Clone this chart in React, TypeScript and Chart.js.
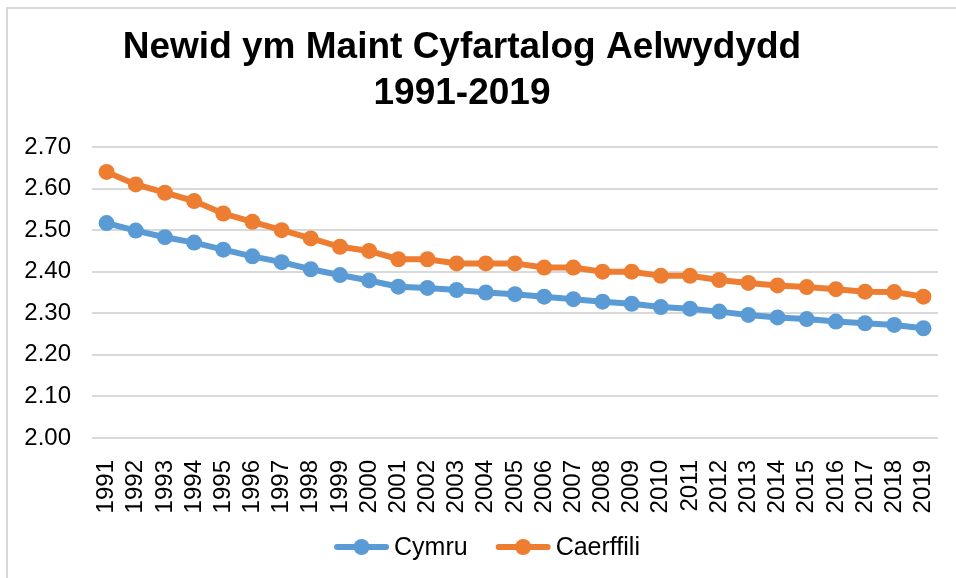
import React, { useEffect, useRef } from "react";
import { Chart, registerables } from "chart.js";

Chart.register(...registerables);

const FONT = '"Liberation Sans", Arial, sans-serif';

const titleLines = ["Newid ym Maint Cyfartalog Aelwydydd", "1991-2019"];

const years = [
  "1991", "1992", "1993", "1994", "1995", "1996", "1997", "1998", "1999", "2000",
  "2001", "2002", "2003", "2004", "2005", "2006", "2007", "2008", "2009", "2010",
  "2011", "2012", "2013", "2014", "2015", "2016", "2017", "2018", "2019",
];

const cymru = [
  2.517, 2.499, 2.483, 2.47, 2.453, 2.437, 2.423, 2.406, 2.392, 2.379,
  2.364, 2.361, 2.356, 2.35, 2.346, 2.34, 2.334, 2.328, 2.323, 2.315,
  2.311, 2.304, 2.296, 2.29, 2.286, 2.28, 2.276, 2.272, 2.264,
];

const caerffili = [
  2.64, 2.61, 2.59, 2.57, 2.54, 2.52, 2.5, 2.48, 2.46, 2.45,
  2.43, 2.43, 2.42, 2.42, 2.42, 2.41, 2.41, 2.4, 2.4, 2.39,
  2.39, 2.38, 2.373, 2.367, 2.363, 2.358, 2.352, 2.351, 2.34,
];

const yTicks = [2.0, 2.1, 2.2, 2.3, 2.4, 2.5, 2.6, 2.7];

const seriesNames = ["Cymru", "Caerffili"];
const seriesColors = ["#5B9BD5", "#ED7D31"];

const titlePlugin = {
  id: "customTitle",
  afterDraw(chart: any) {
    const ctx = chart.ctx;
    ctx.save();
    ctx.font = `bold 37px ${FONT}`;
    ctx.fillStyle = "#000";
    ctx.textAlign = "center";
    ctx.textBaseline = "alphabetic";
    const cx = chart.width / 2 - 20;
    ctx.fillText(titleLines[0], cx, 49);
    ctx.fillText(titleLines[1], cx, 95);
    ctx.restore();
  },
};

const legendPlugin = {
  id: "customLegend",
  afterDraw(chart: any) {
    const ctx = chart.ctx;
    ctx.save();
    ctx.font = `25px ${FONT}`;
    const lineW = 55;
    const gapText = 5;
    const gapItem = 28;
    const items = chart.data.datasets.map((ds: any) => ({
      label: ds.label,
      color: ds.borderColor,
      w: ctx.measureText(ds.label).width,
    }));
    const total =
      items.reduce((s: number, it: any) => s + lineW + gapText + it.w, 0) +
      gapItem * (items.length - 1);
    let x = chart.width / 2 + 5 - total / 2;
    const y = chart.height - 31;
    for (const it of items) {
      ctx.strokeStyle = it.color;
      ctx.lineWidth = 6;
      ctx.lineCap = "round";
      ctx.beginPath();
      ctx.moveTo(x + 3, y);
      ctx.lineTo(x + lineW - 3, y);
      ctx.stroke();
      ctx.fillStyle = it.color;
      ctx.beginPath();
      ctx.arc(x + lineW / 2, y, 8, 0, Math.PI * 2);
      ctx.fill();
      ctx.fillStyle = "#000";
      ctx.textAlign = "left";
      ctx.textBaseline = "middle";
      ctx.fillText(it.label, x + lineW + gapText, y + 1);
      x += lineW + gapText + it.w + gapItem;
    }
    ctx.restore();
  },
};

export default function App() {
  const ref = useRef<HTMLCanvasElement | null>(null);

  useEffect(() => {
    if (!ref.current) return;
    const values = [cymru, caerffili];
    const chart = new Chart(ref.current, {
      type: "line",
      data: {
        labels: years,
        datasets: values.map((v, i) => ({
          label: seriesNames[i],
          data: v,
          borderColor: seriesColors[i],
          backgroundColor: seriesColors[i],
          pointBackgroundColor: seriesColors[i],
          pointBorderColor: seriesColors[i],
          borderWidth: 6,
          pointRadius: 8,
          pointBorderWidth: 0,
          tension: 0,
          fill: false,
        })),
      },
      options: {
        responsive: false,
        animation: false,
        devicePixelRatio: 1,
        layout: { padding: { top: 138, right: 18, bottom: 60, left: 0 } },
        plugins: {
          legend: { display: false },
          title: { display: false },
          tooltip: { enabled: false },
        },
        scales: {
          x: {
            offset: true,
            grid: { display: false },
            border: { display: false },
            ticks: {
              autoSkip: false,
              minRotation: 90,
              maxRotation: 90,
              padding: 14,
              color: "#000",
              font: { size: 24, family: FONT },
            },
            afterFit: (s: any) => {
              s.height = 80;
              s.paddingLeft = 0;
              s.paddingRight = 0;
            },
          },
          y: {
            min: yTicks[0],
            max: yTicks[yTicks.length - 1],
            grid: { color: "#d9d9d9", lineWidth: 2, drawTicks: false },
            border: { display: false },
            afterBuildTicks: (s: any) => {
              s.ticks = yTicks.map((v) => ({ value: v }));
            },
            ticks: {
              padding: 21,
              color: "#000",
              font: { size: 24, family: FONT },
              callback: (v: any) => Number(v).toFixed(2),
            },
            afterFit: (s: any) => {
              s.width = 84;
              s.paddingTop = 0;
              s.paddingBottom = 0;
            },
          },
        },
      },
      plugins: [titlePlugin, legendPlugin],
    });
    return () => chart.destroy();
  }, []);

  return (
    <div
      style={{
        position: "fixed",
        left: 6,
        top: 7,
        width: 950,
        height: 571,
        borderTop: "2px solid #d9d9d9",
        borderLeft: "2px solid #d9d9d9",
        boxSizing: "border-box",
        background: "#fff",
      }}
    >
      <canvas ref={ref} width={948} height={569} style={{ display: "block" }} />
    </div>
  );
}
